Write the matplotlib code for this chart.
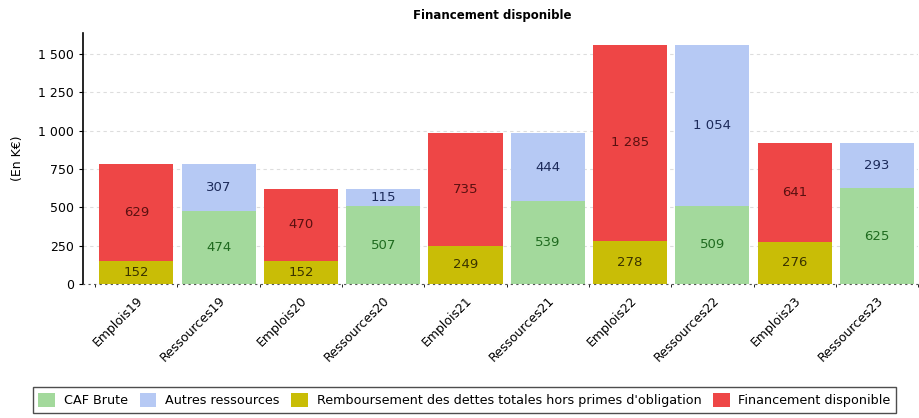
import numpy as np
import matplotlib.pyplot as plt
from matplotlib.patches import Patch
import matplotlib.ticker as ticker

categories = ["Emplois19", "Ressources19", "Emplois20", "Ressources20", "Emplois21",
              "Ressources21", "Emplois22", "Ressources22", "Emplois23", "Ressources23"]
# Emplois bars: remboursement (bottom) + financement disponible (top)
# Ressources bars: CAF brute (bottom) + autres ressources (top)
caf_brute = [0, 474, 0, 507, 0, 539, 0, 509, 0, 625]
autres_ressources = [0, 307, 0, 115, 0, 444, 0, 1054, 0, 293]
remboursement = [152, 0, 152, 0, 249, 0, 278, 0, 276, 0]
financement = [629, 0, 470, 0, 735, 0, 1285, 0, 641, 0]

series = [
    ("CAF Brute", caf_brute, None, "#a3d99c", "#1f6b1f"),
    ("Autres ressources", autres_ressources, caf_brute, "#b6c9f4", "#1c2a5a"),
    ("Remboursement des dettes totales hors primes d'obligation", remboursement, None, "#c9bd06", "#3a3300"),
    ("Financement disponible", financement, remboursement, "#ee4646", "#5a1010"),
]

def fmt(v):
    return f"{v:,}".replace(",", " ")

fig = plt.figure(figsize=(9.2, 4.18), dpi=100)
ax = fig.add_axes([0.090, 0.3206, 0.908, 0.600])

x = np.arange(len(categories))
for name, vals, base, col, tcol in series:
    vals = np.array(vals)
    bottom = np.zeros(len(vals)) if base is None else np.array(base)
    ax.bar(x, vals, bottom=bottom, width=0.9, color=col, zorder=2)
    for xi, v, b in zip(x, vals, bottom):
        if v > 0:
            ax.text(xi, b + v / 2, fmt(int(v)), ha="center", va="center",
                    fontsize=9.5, color=tcol, zorder=3)

ax.set_xlim(-0.65, 9.5)
ax.set_ylim(0, 1637)
ax.set_yticks([0, 250, 500, 750, 1000, 1250, 1500])
ax.yaxis.set_major_formatter(ticker.FuncFormatter(lambda v, p: fmt(int(v))))
ax.set_xticks(x)
ax.set_xticklabels(categories, rotation=45, ha="right", rotation_mode="anchor", fontsize=9)
ax.tick_params(axis="y", labelsize=9, length=3)
ax.tick_params(axis="x", length=0, pad=7)
ax.set_xticks(np.arange(-0.5, 10, 1), minor=True)
ax.tick_params(axis="x", which="minor", length=2)
ax.grid(axis="y", color="#dddddd", linestyle=(0, (3, 3)), linewidth=0.8, zorder=0)
for s in ["top", "right"]:
    ax.spines[s].set_visible(False)
ax.spines["left"].set_linewidth(1.2)
ax.spines["bottom"].set_color("#555555")
ax.spines["bottom"].set_linestyle((0, (1, 4)))
ax.set_ylabel("(En K€)", fontsize=9, labelpad=10)

fig.text(0.535, 0.962, "Financement disponible", ha="center", va="center",
         fontsize=8.5, fontweight="bold")

handles = [Patch(facecolor=c, label=n) for n, _, _, c, _ in series]
leg = fig.legend(handles=handles, loc="center", bbox_to_anchor=(0.505, 0.043), ncol=4,
                 frameon=True, fancybox=False, fontsize=9.2, handlelength=1.3,
                 handleheight=1.3, columnspacing=0.9, handletextpad=0.7, borderpad=0.45)
leg.get_frame().set_edgecolor("#222222")
leg.get_frame().set_linewidth(1.0)

fig.savefig("out.png", dpi=100)
